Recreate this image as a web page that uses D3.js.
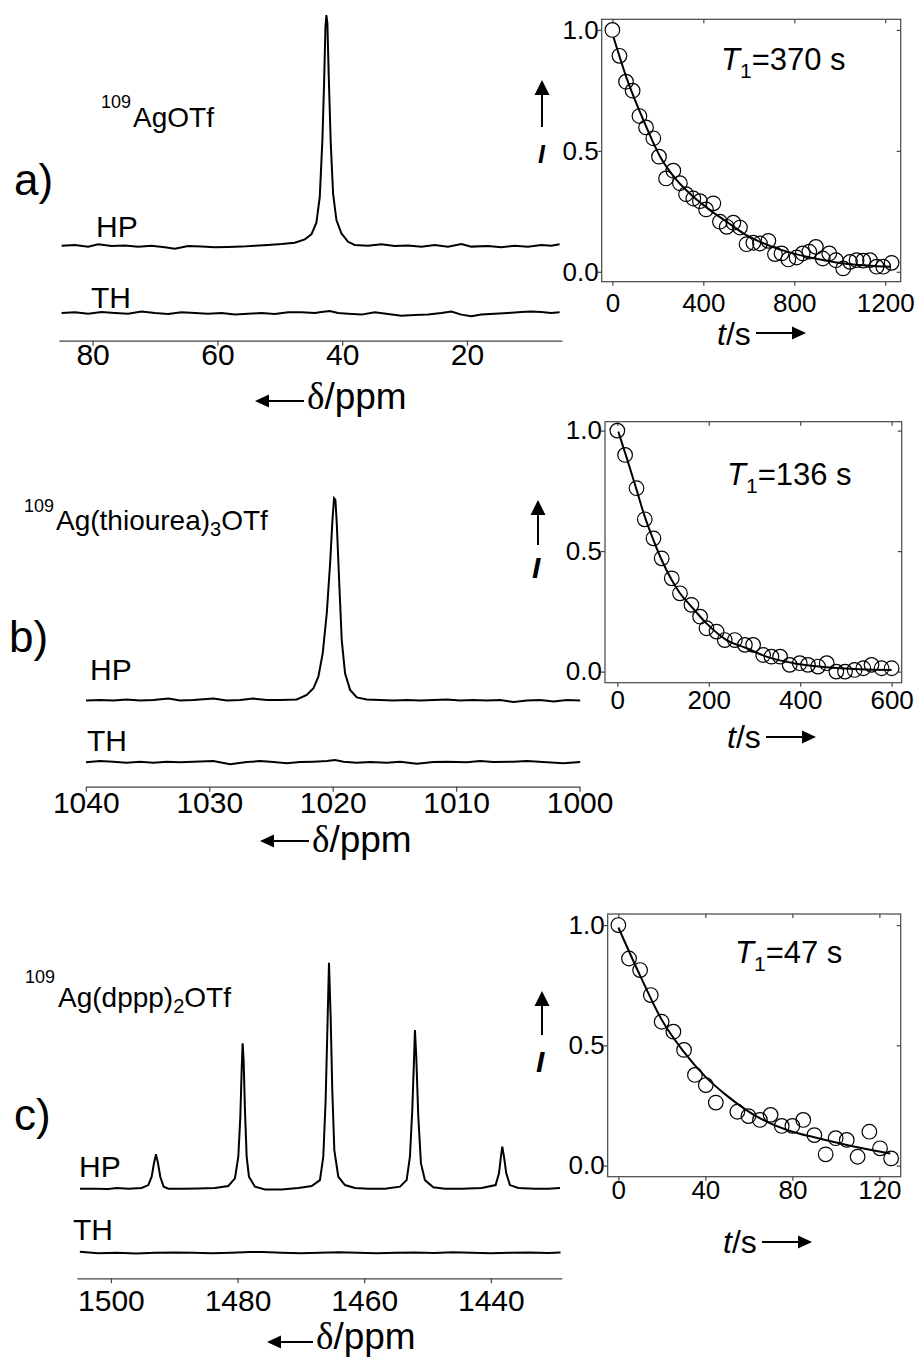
<!DOCTYPE html>
<html>
<head>
<meta charset="utf-8">
<script src="https://cdn.jsdelivr.net/npm/d3@7"></script>
<style>
  body { margin: 0; background: #fff; }
  text { fill: #000; }
</style>
</head>
<body>
<script>
// ---- spectra: [ppm, intensity in % of the HP peak] ----
const aHP = [[84.97,0],[82.84,0.3],[80.70,-0.4],[79.10,0.6],[76.96,-0.1],[74.83,0.1],[72.69,-0.4],[70.56,0],[68.42,-0.7],[66.82,-1.3],[64.68,-0.1],[62.55,-0.4],[60.41,-0.7],[58.28,-0.6],[56.14,-0.4],[54.00,0],[51.87,0.3],[49.73,0.7],[47.60,1.3],[46.00,2.7],[44.93,4.9],[44.13,10.0],[43.59,21.2],[43.17,45.8],[42.90,70.4],[42.68,94.9],[42.53,100],[42.37,96.4],[42.15,73.3],[41.83,44.4],[41.46,22.7],[40.92,11.1],[40.12,5.3],[39.05,1.7],[37.99,0.3],[35.85,0],[33.72,0.6],[31.58,-0.1],[29.44,0.1],[27.31,-0.4],[25.17,0.3],[23.04,-0.4],[20.90,0.7],[19.30,-0.4],[16.63,-0.1],[14.49,-0.7],[12.36,0],[10.22,-0.4],[8.09,0.3],[6.49,0],[5.15,0.6]];
const aTH = [[84.97,0],[82.84,0.3],[80.70,-0.3],[78.57,0.4],[76.43,0],[74.29,-0.3],[72.16,0.6],[70.02,0],[67.89,-0.4],[65.75,0.3],[63.62,0],[61.48,-0.3],[59.34,0],[57.21,-0.7],[55.07,-0.3],[52.94,0],[50.80,-0.4],[48.67,0.3],[46.53,0.3],[44.39,0],[43.33,0.4],[41.99,0.9],[40.66,0],[39.05,-0.3],[36.92,-0.7],[34.78,0.3],[32.65,-0.4],[30.51,-1.2],[28.38,-0.9],[26.24,-0.6],[24.10,0],[22.50,0.6],[20.90,-0.7],[19.30,-1.4],[17.70,-0.7],[15.56,-0.3],[13.43,0],[11.29,0.4],[9.69,0.7],[8.09,0.4],[6.49,0],[5.15,0.3]];
const bHP = [[1039.98,-0.3],[1038.85,0],[1037.77,-0.3],[1036.69,0.3],[1035.61,-0.3],[1034.53,0],[1033.31,0.7],[1032.37,-0.3],[1031.29,0],[1029.67,0.7],[1028.58,-0.3],[1027.50,0],[1026.42,0.7],[1025.34,0],[1024.26,0],[1022.91,0.3],[1022.10,2.5],[1021.56,5.8],[1021.16,11.6],[1020.81,23.1],[1020.48,43.0],[1020.21,67.8],[1020.02,89.3],[1019.89,100],[1019.78,99.2],[1019.67,87.6],[1019.48,59.5],[1019.27,29.8],[1019.00,13.2],[1018.59,5.0],[1018.05,1.3],[1017.24,0.3],[1016.16,0],[1015.08,-0.3],[1014.00,0],[1012.92,-0.3],[1011.84,0],[1010.76,0.3],[1009.68,-0.3],[1008.60,0],[1007.52,-0.3],[1006.43,0],[1005.35,-1.0],[1004.27,-0.3],[1003.19,0],[1002.11,-0.7],[1001.03,0],[999.95,-0.2]];
const bTH = [[1039.98,-0.3],[1038.85,0.3],[1037.77,0],[1036.69,-0.5],[1035.61,0],[1034.53,-0.5],[1033.45,0],[1032.37,-0.3],[1031.29,0],[1029.67,0.3],[1028.31,-1.2],[1026.96,-0.2],[1025.88,0.3],[1024.80,-0.2],[1023.72,-0.8],[1022.64,-0.2],[1021.56,0],[1020.48,0.3],[1019.81,0.8],[1019.13,0],[1018.05,-0.5],[1016.97,-0.2],[1015.62,-0.5],[1014.54,0],[1013.19,-1.0],[1011.84,-0.2],[1010.76,0],[1009.14,-0.3],[1008.05,0.3],[1006.97,-0.2],[1005.35,0],[1004.27,0.3],[1002.65,-0.3],[1001.30,-0.8],[999.95,-0.2]];
const cHP = [[1504.88,0],[1502.51,0],[1500.41,-0.1],[1499.09,0.3],[1497.25,0],[1495.14,0.3],[1494.09,1.6],[1493.56,5.3],[1493.20,11.2],[1492.88,15.3],[1492.56,11.2],[1492.20,5.3],[1491.67,0.9],[1490.93,0],[1488.83,0],[1486.20,0.1],[1483.56,0.3],[1481.46,1.2],[1480.41,4.6],[1479.88,14.2],[1479.56,31.9],[1479.35,52.5],[1479.20,64.3],[1479.04,56.9],[1478.83,34.8],[1478.56,14.2],[1478.20,5.3],[1477.25,0.9],[1475.67,-0.3],[1473.04,-0.3],[1470.41,0.3],[1468.30,1.2],[1466.99,3.8],[1466.46,14.2],[1466.09,39.2],[1465.83,68.7],[1465.56,100],[1465.30,76.1],[1465.04,43.7],[1464.72,17.1],[1464.09,5.3],[1463.04,1.6],[1461.46,0.3],[1459.36,0],[1456.72,0],[1454.35,0.9],[1453.30,3.8],[1452.78,14.2],[1452.41,34.8],[1452.14,56.9],[1451.99,70.2],[1451.78,58.4],[1451.46,31.9],[1451.04,11.2],[1450.41,3.8],[1449.09,0.6],[1447.25,0],[1444.62,0],[1441.46,0.3],[1439.25,1.6],[1438.72,6.8],[1438.41,14.2],[1438.20,18.6],[1437.93,14.2],[1437.57,6.8],[1436.99,1.6],[1435.67,0.3],[1433.04,0],[1430.93,0],[1429.09,0.3]];
const cTH = [[1504.9,0.4],[1502,-0.2],[1499,0],[1496,-0.3],[1493,0],[1490,0.1],[1487,0],[1484,-0.2],[1481,0],[1478,0.3],[1476,0.3],[1473,0],[1470,-0.2],[1467,0],[1464,0.2],[1461,0],[1458,-0.2],[1455,0],[1452,0.1],[1449,-0.1],[1446,0.2],[1443,0],[1440,-0.2],[1437,0],[1434,0.1],[1431,-0.1],[1429,0.1]];
const aTicks = [80, 60, 40, 20];
const bTicks = [1040, 1030, 1020, 1010, 1000];
const cTicks = [1500, 1480, 1460, 1440];

// ---- relaxation: t / s, normalised intensity ----
const aT = [0,31,60,89,119,148,180,205,236,268,297,324,356,385,412,444,473,503,532,561,590,620,649,686,715,744,774,810,837,866,895,925,954,983,1015,1045,1074,1103,1133,1162,1191,1228];
const aI = [1.0,0.893,0.786,0.749,0.644,0.597,0.552,0.476,0.386,0.418,0.366,0.321,0.303,0.292,0.258,0.283,0.207,0.186,0.203,0.183,0.114,0.12,0.117,0.128,0.073,0.076,0.051,0.059,0.076,0.083,0.103,0.055,0.076,0.048,0.014,0.041,0.048,0.046,0.048,0.021,0.021,0.037];
const aFitT = [5,63,136,210,283,356,429,503,576,649,722,796,869,942,1015,1089,1162,1225];
const aFitI = [0.97,0.80,0.628,0.476,0.379,0.310,0.255,0.207,0.159,0.124,0.097,0.076,0.059,0.046,0.034,0.028,0.023,0.021];
const bT = [0,17,42,60,79,97,119,137,162,181,195,217,235,257,279,297,319,337,356,377,399,417,439,458,479,498,519,538,556,578,600];
const bI = [1.0,0.899,0.761,0.632,0.553,0.470,0.387,0.325,0.277,0.228,0.180,0.166,0.131,0.131,0.111,0.111,0.069,0.062,0.062,0.028,0.035,0.028,0.021,0.035,0.0,0.0,0.007,0.014,0.028,0.014,0.014];
const bFitT = [2,20,42,60,79,97,119,137,162,195,239,283,326,385,458,530,600];
const bFitI = [0.996,0.89,0.755,0.643,0.546,0.463,0.38,0.325,0.27,0.2,0.131,0.097,0.062,0.035,0.018,0.01,0.007];
const cT = [0,4.9,10,14.9,19.9,25.3,30.2,35.2,40.2,44.8,54.7,59.8,65.1,70,75.1,80,85,90.1,95.3,99.9,105,110,115.4,120.3,125.4];
const cI = [1.0,0.861,0.813,0.709,0.598,0.557,0.481,0.377,0.335,0.262,0.224,0.206,0.190,0.211,0.165,0.165,0.190,0.127,0.047,0.114,0.107,0.037,0.141,0.072,0.030];
const cFitT = [0,10,20,30,40,50,65,80,90,105,125];
const cFitI = [0.99,0.79,0.605,0.474,0.37,0.29,0.197,0.141,0.118,0.086,0.05];
const aXTicks = [0, 400, 800, 1200];
const bXTicks = [0, 200, 400, 600];
const cXTicks = [0, 40, 80, 120];
const yTicks = [0, 0.5, 1.0];
const t1Values = [370, 136, 47];

const W = 918, H = 1361;
const FONT = "'Liberation Sans', Arial, Helvetica, sans-serif";
const svg = d3.select("body").append("svg")
    .attr("width", W).attr("height", H)
    .style("font-family", FONT);
svg.append("rect").attr("width", W).attr("height", H).attr("fill", "#fff");

// arrow from (x1,y1) with a filled head at (x2,y2)
function arrow(x1, y1, x2, y2, L, w) {
    const a = Math.atan2(y2 - y1, x2 - x1);
    const bx = x2 - L * Math.cos(a), by = y2 - L * Math.sin(a);
    svg.append("line").attr("x1", x1).attr("y1", y1).attr("x2", bx).attr("y2", by)
        .attr("stroke", "#000").attr("stroke-width", 2);
    const px = -Math.sin(a) * w, py = Math.cos(a) * w;
    svg.append("path")
        .attr("d", `M${x2},${y2}L${bx + px},${by + py}L${bx - px},${by - py}Z`)
        .attr("fill", "#000");
}

function txt(x, y, size, s) {
    return svg.append("text").attr("x", x).attr("y", y).attr("font-size", size).text(s);
}

// ---------- left: spectra ----------
const spectra = [
    { hp: aHP, th: aTH, ticks: aTicks, dom: [85.4, 4.8], x0: 58.9, x1: 561.8, axisY: 340.7, base: 245.7, top: 15, thBase: 313, lab: 24 },
    { hp: bHP, th: bTH, ticks: bTicks, dom: [1040, 1000], x0: 85.8, x1: 579.6, axisY: 786.7, base: 700, top: 498.3, thBase: 761.7, lab: 26 },
    { hp: cHP, th: cTH, ticks: cTicks, dom: [1505.35, 1428.8], x0: 77, x1: 561.8, axisY: 1278.3, base: 1188.7, top: 962.7, thBase: 1252.7, lab: 33 }
];

spectra.forEach(p => {
    const x = d3.scaleLinear().domain(p.dom).range([p.x0, p.x1]);
    const y = d3.scaleLinear().domain([0, 100]).range([p.base, p.top]);
    const line = d3.line().x(d => x(d[0])).y(d => y(d[1]));

    svg.append("path").datum(p.hp).attr("d", line)
        .attr("fill", "none").attr("stroke", "#000").attr("stroke-width", 2);
    svg.append("path").datum(p.th).attr("d", line)
        .attr("transform", `translate(0,${p.thBase - p.base})`)
        .attr("fill", "none").attr("stroke", "#000").attr("stroke-width", 2);

    const ax = svg.append("g").attr("transform", `translate(0,${p.axisY})`)
        .call(d3.axisBottom(x).tickValues(p.ticks).tickFormat(d3.format("d"))
            .tickSize(5).tickSizeOuter(0));
    ax.attr("font-size", 30).attr("font-family", FONT);
    ax.select(".domain").attr("stroke", "#444").attr("stroke-width", 1.2);
    ax.selectAll(".tick line").attr("stroke", "#444").attr("stroke-width", 1.2);
    ax.selectAll(".tick text").attr("y", p.lab).attr("dy", 0).attr("fill", "#000");
});

// panel letters
txt(14, 195, 44, "a)");
txt(9, 652, 44, "b)");
txt(14, 1130, 44, "c)");

// HP / TH
txt(96, 237, 30, "HP");  txt(91, 308, 30, "TH");
txt(90, 680, 30, "HP");  txt(87, 751, 30, "TH");
txt(79, 1177, 30, "HP"); txt(73, 1240, 30, "TH");

// compound names
txt(101, 108, 18, "109");
txt(133, 127, 28, "AgOTf");
txt(24, 512, 18, "109");
const nb = txt(56, 530, 28, "Ag(thiourea)");
nb.append("tspan").attr("font-size", 20).attr("dy", 6).text("3");
nb.append("tspan").attr("dy", -6).text("OTf");
txt(25, 983, 18, "109");
const nc = txt(58, 1007, 28, "Ag(dppp)");
nc.append("tspan").attr("font-size", 20).attr("dy", 6).text("2");
nc.append("tspan").attr("dy", -6).text("OTf");

// delta / ppm labels
[[307, 409, 401, 255], [312, 852, 841, 260], [316, 1349, 1342, 267]].forEach(([tx, ty, ay, ax0]) => {
    arrow(tx - 3, ay, ax0, ay, 14, 6.5);
    const t = svg.append("text").attr("x", tx).attr("y", ty).attr("font-size", 37);
    t.append("tspan").attr("font-family", "'Liberation Serif', 'Times New Roman', serif").text("δ");
    t.append("tspan").text("/ppm");
});

// ---------- right: relaxation ----------
const relax = [
    { t: aT, v: aI, ft: aFitT, fv: aFitI, xt: aXTicks, xdom: [-47, 1268], ydom: [-0.041, 1.044], l: 601.7, r: 900.7, tp: 19.3, b: 281.7, lab: 30, t1x: 721, t1y: 70, tsx: 717, tsy: 345, ay: 333 },
    { t: bT, v: bI, ft: bFitT, fv: bFitI, xt: bXTicks, xdom: [-27, 622], ydom: [-0.046, 1.037], l: 605, r: 901.7, tp: 421.7, b: 682.7, lab: 26, t1x: 727, t1y: 485, tsx: 727, tsy: 748, ay: 737 },
    { t: cT, v: cI, ft: cFitT, fv: cFitI, xt: cXTicks, xdom: [-4.9, 129.8], ydom: [-0.046, 1.046], l: 607.7, r: 900.7, tp: 914, b: 1176.7, lab: 22, t1x: 735, t1y: 963, tsx: 723, tsy: 1253, ay: 1242 }
];

relax.forEach((p, k) => {
    const x = d3.scaleLinear().domain(p.xdom).range([p.l, p.r]);
    const y = d3.scaleLinear().domain(p.ydom).range([p.b, p.tp]);

    svg.append("rect").attr("x", p.l).attr("y", p.tp)
        .attr("width", p.r - p.l).attr("height", p.b - p.tp)
        .attr("fill", "none").attr("stroke", "#444").attr("stroke-width", 1.2);

    const gx = svg.append("g").attr("transform", `translate(0,${p.b})`)
        .call(d3.axisBottom(x).tickValues(p.xt).tickFormat(d3.format("d"))
            .tickSize(4).tickSizeOuter(0));
    gx.attr("font-size", 26).attr("font-family", FONT);
    gx.selectAll(".tick text").attr("y", p.lab).attr("dy", 0).attr("fill", "#000");
    const gy = svg.append("g").attr("transform", `translate(${p.l},0)`)
        .call(d3.axisLeft(y).tickValues(yTicks).tickFormat(d3.format(".1f")).tickSize(4).tickSizeOuter(0));
    gy.attr("font-size", 26).attr("font-family", FONT);
    gy.selectAll(".tick text").attr("x", -3).attr("fill", "#000");
    const gt = svg.append("g").attr("transform", `translate(0,${p.tp})`)
        .call(d3.axisTop(x).tickValues(p.xt).tickSize(-4).tickSizeOuter(0).tickFormat(""));
    const gr = svg.append("g").attr("transform", `translate(${p.r},0)`)
        .call(d3.axisRight(y).tickValues(yTicks).tickSize(-4).tickSizeOuter(0).tickFormat(""));
    [gx, gy, gt, gr].forEach(g => {
        g.select(".domain").remove();
        g.selectAll(".tick line").attr("stroke", "#444").attr("stroke-width", 1.2);
    });

    const pts = p.t.map((t, i) => [t, p.v[i]]);
    svg.append("g").selectAll("circle").data(pts).join("circle")
        .attr("cx", d => x(d[0])).attr("cy", d => y(d[1])).attr("r", 7.3)
        .attr("fill", "none").attr("stroke", "#000").attr("stroke-width", 1.2);

    const fit = p.ft.map((t, i) => [t, p.fv[i]]);
    svg.append("path").datum(fit)
        .attr("d", d3.line().x(d => x(d[0])).y(d => y(d[1])).curve(d3.curveMonotoneX))
        .attr("fill", "none").attr("stroke", "#000").attr("stroke-width", 2);

    // T1 label
    const t1 = txt(p.t1x, p.t1y, 31, null);
    t1.append("tspan").attr("font-style", "italic").text("T");
    t1.append("tspan").attr("font-size", 21).attr("dy", 8).text("1");
    t1.append("tspan").attr("dy", -8).text("=" + t1Values[k] + " s");

    // t/s label with arrow
    const ts = txt(p.tsx, p.tsy, 32, null);
    ts.append("tspan").attr("font-style", "italic").text("t");
    ts.append("tspan").text("/s");
    arrow(p.tsx + 39, p.ay, p.tsx + 89, p.ay, 14, 6.5);
});

// intensity arrows "I"
[[542, 127, 80, 538, 163, 25], [538, 545, 500, 532, 578, 30], [542, 1035, 991, 536, 1072, 30]].forEach(([ax, y1, y2, tx, ty, fs]) => {
    arrow(ax, y1, ax, y2, 15, 7.5);
    txt(tx, ty, fs, "I").attr("font-style", "italic").attr("font-weight", "bold");
});
</script>
</body>
</html>
